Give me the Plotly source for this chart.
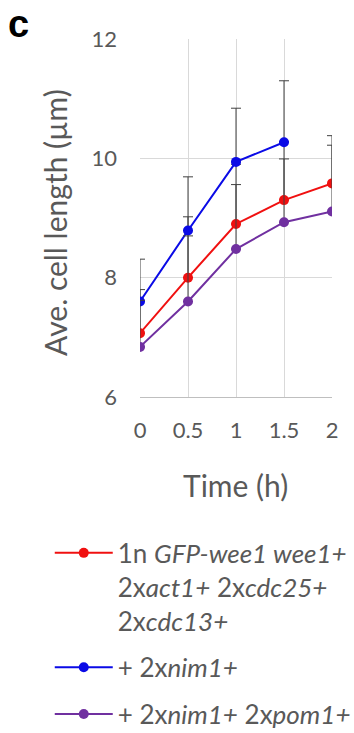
import plotly.graph_objects as go

# Time points (h)
time_h = [0, 0.5, 1, 1.5, 2]

# Average cell length (µm) per strain
red_len = [7.07, 8.00, 8.90, 9.30, 9.58]
blue_len = [7.60, 8.79, 9.94, 10.27]
purple_len = [6.84, 7.60, 8.48, 8.93, 9.11]

# Upper error (SD)
red_err = [0.73, 1.02, 1.00, 0.98, 0.80]
blue_err = [0.71, 0.90, 0.90, 1.03]
purple_err = [0.78, 1.10, 1.08, 1.06, 1.11]

names = [
    "1n <i>GFP-wee1 wee1+</i><br>2x<i>act1+</i> 2x<i>cdc25+</i><br>2x<i>cdc13+</i>",
    "+ 2x<i>nim1+</i>",
    "+ 2x<i>nim1+</i> 2x<i>pom1+</i>",
]
colors = ["#f01010", "#0a0ae6", "#7030a0"]

FONT = "Lato"
GREY = "#595959"

fig = go.Figure()
series = [(red_len, red_err), (blue_len, blue_err), (purple_len, purple_err)]
for i, ((vals, err), name, col) in enumerate(zip(series, names, colors)):
    fig.add_trace(go.Scatter(
        x=time_h[:len(vals)], y=vals, name=name, mode="lines+markers",
        line=dict(color=col, width=2),
        marker=dict(color=col, size=10),
        error_y=dict(type="data", symmetric=False, array=err,
                     arrayminus=[0] * len(err), color="#404040",
                     thickness=1, width=5),
        legendgroup=f"g{i}",
    ))

fig.update_xaxes(
    range=[0, 2], tickvals=time_h, ticktext=["0", "0.5", "1", "1.5", "2"],
    showgrid=True, gridcolor="#d9d9d9", gridwidth=1,
    showline=True, linecolor="#bfbfbf", linewidth=1,
    zeroline=False, ticks="", ticklabelstandoff=14,
    tickfont=dict(family=FONT, size=22, color=GREY),
)
fig.update_yaxes(
    range=[6, 12], tickvals=[6, 8, 10, 12],
    showgrid=True, gridcolor="#d9d9d9", gridwidth=1,
    showline=False, zeroline=False, ticks="", ticklabelstandoff=22,
    tickfont=dict(family=FONT, size=22, color=GREY),
)

fig.add_annotation(text="Ave. cell length (µm)", xref="paper", yref="paper",
                   x=-0.443, y=0.489, xanchor="center", yanchor="middle",
                   textangle=-90, showarrow=False,
                   font=dict(family=FONT, size=30, color=GREY))
fig.add_annotation(text="Time (h)", xref="paper", yref="paper",
                   x=0.495, y=-0.246, xanchor="center", yanchor="middle",
                   showarrow=False,
                   font=dict(family=FONT, size=30, color=GREY))
# panel letter
fig.add_annotation(text="<b>c</b>", xref="paper", yref="paper",
                   x=-0.70, y=1.106, xanchor="left", yanchor="top",
                   showarrow=False,
                   font=dict(family="Liberation Sans", size=38, color="black"))

fig.update_layout(
    width=354, height=733,
    margin=dict(l=140, r=22, t=39, b=336, autoexpand=False),
    paper_bgcolor="white", plot_bgcolor="white",
    showlegend=True,
    legend=dict(x=-0.47, y=-0.37, xanchor="left", yanchor="top",
                font=dict(family=FONT, size=26, color=GREY),
                itemwidth=58, tracegroupgap=10, valign="top",
                maxheight=1, bgcolor="rgba(0,0,0,0)"),
)

fig.write_html("out.html")
